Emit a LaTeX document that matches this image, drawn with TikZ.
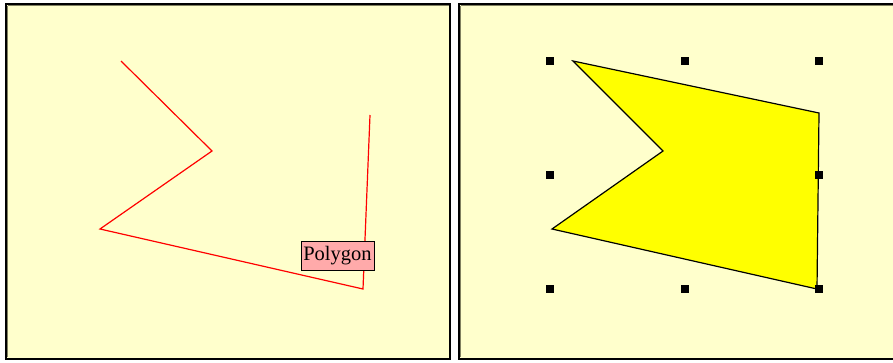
\documentclass[tikz,border=0pt]{standalone}
\usepackage{fontspec}
\setmainfont{Liberation Serif}
\definecolor{panelbg}{HTML}{FFFFCC}
\definecolor{labelpink}{HTML}{FFAAAA}
\definecolor{framegray}{HTML}{808060}
\definecolor{fillyellow}{HTML}{FFFF00}
\definecolor{pureRed}{HTML}{FF0000}
\tikzset{
  panel/.style={fill=panelbg, draw=black, line width=2pt},
  redline/.style={draw=pureRed, line width=1.2pt, line join=miter},
  polyfill/.style={draw=black, fill=fillyellow, line width=1.2pt, line join=miter},
  handle/.style={fill=black, minimum size=8pt, inner sep=0pt, draw=none, rectangle},
  labelbox/.style={draw=black, fill=labelpink, line width=1pt, inner sep=1pt, minimum width=73pt, minimum height=29pt, font=\fontsize{20.5}{22}\selectfont}
}
\begin{document}
\begin{tikzpicture}[x=1pt,y=-1pt]
\useasboundingbox[fill=white] (0,0) rectangle (893,362);
% panels
\draw[panel] (6,4) rectangle (450,358.5);
\draw[panel] (459,4) rectangle (897,358.5);
\draw[framegray, line width=1pt] (7.5,5.5) -- (7.5,357);
\draw[framegray, line width=1pt] (7.5,5.5) -- (448.5,5.5);
\draw[framegray, line width=1pt] (460.5,5.5) -- (460.5,357);
\draw[framegray, line width=1pt] (460.5,5.5) -- (893,5.5);
% left: red polyline
\coordinate (a1) at (121,61);
\coordinate (a2) at (212,151);
\coordinate (a3) at (100,229);
\coordinate (a4) at (363,289);
\coordinate (a5) at (370,115);
\draw[redline] (a1) -- (a2) -- (a3) -- (a4) -- (a5);
\node[labelbox] (lbl) at (337.5,255.5) {Polygon};
% right: filled polygon
\coordinate (b1) at (573,61);
\coordinate (b2) at (819,113);
\coordinate (b3) at (817,289);
\coordinate (b4) at (552,229);
\coordinate (b5) at (663,151);
\draw[polyfill] (b1) -- (b2) -- (b3) -- (b4) -- (b5) -- cycle;
% handles
\node[handle] (h1) at (550,61) {};
\node[handle] (h2) at (685,61) {};
\node[handle] (h3) at (819,61) {};
\node[handle] (h4) at (550,175) {};
\node[handle] (h5) at (819,175) {};
\node[handle] (h6) at (550,289) {};
\node[handle] (h7) at (685,289) {};
\node[handle] (h8) at (819,289) {};
\end{tikzpicture}
\end{document}
